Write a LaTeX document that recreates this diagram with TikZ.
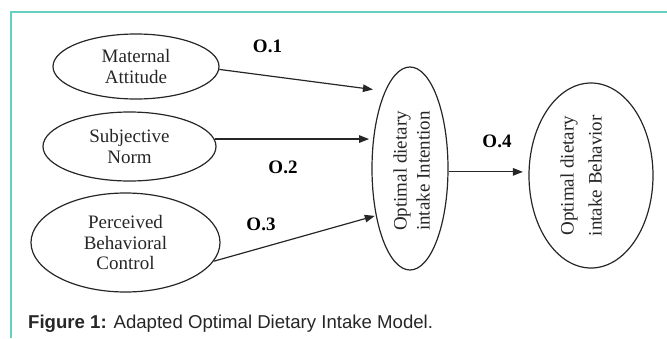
\documentclass[tikz,border=0pt]{standalone}
\usepackage{fontspec}
\setmainfont{Liberation Serif}
\newfontfamily\capfont{Liberation Sans}
\usepackage{graphicx}
\usetikzlibrary{shapes.geometric,arrows.meta}
\definecolor{frameteal}{RGB}{102,208,192}
\definecolor{ink}{RGB}{38,38,38}
\begin{document}
\begin{tikzpicture}[x=1pt,y=-1pt,
  oval/.style={ellipse,draw=ink,line width=1.2pt,inner sep=0pt,align=center,
    font=\fontsize{19}{20.5}\selectfont,text=ink},
  vtext/.style={inner sep=0pt,text=ink},
  lbl/.style={font=\fontsize{19}{20}\selectfont\bfseries,inner sep=0pt,text=black},
  arr/.style={draw=ink,line width=1.2pt,-{Triangle[length=10pt,width=7.5pt]}},
]
\useasboundingbox (0,0) rectangle (667,338);
% frame
\draw[frameteal,line width=1.5pt] (11,338) -- (11,12) -- (667,12);

% left ellipses
\node[oval,minimum width=166,minimum height=65] (mat) at (136,66.5) {Maternal\\Attitude};
\node[oval,minimum width=173,minimum height=69] (subj) at (129.5,146.5) {Subjective\\Norm};
\node[oval,minimum width=189,minimum height=99] (perc) at (125.5,242.5) {Perceived\\Behavioral\\Control};

% vertical ellipses
\node[oval,minimum width=76,minimum height=203] (intent) at (410,168.5) {};
\node[vtext] (intenttxt) at (413.5,171) {\fontsize{19}{23}\selectfont\rotatebox{90}{\begin{tabular}{@{}c@{}}Optimal dietary\\intake Intention\end{tabular}}};
\node[oval,minimum width=124,minimum height=185] (behav) at (591,175.5) {};
\node[vtext] (behavtxt) at (582,175.7) {\fontsize{19}{28}\selectfont\rotatebox{90}{\begin{tabular}{@{}c@{}}Optimal dietary\\intake Behavior\end{tabular}}};

% connectors
\draw[arr,shorten >=12pt] (mat.-2) -- (intent.108);
\draw[arr,shorten >=4pt] (subj.5) -- (subj.5 -| intent.141);
\draw[arr,shorten >=1pt] (perc.-12) -- (intent.234);
\draw[arr,shorten >=5.5pt] (intent.-5) -- (intent.-5 -| behav.west);

% labels
\node[lbl] (o1) at (267.5,46) {O.1};
\node[lbl] (o2) at (283,167) {O.2};
\node[lbl] (o3) at (261,224) {O.3};
\node[lbl] (o4) at (497,141) {O.4};

% caption
\node[anchor=base west,inner sep=0pt,text=ink,font=\capfont\fontsize{18.6}{20}\selectfont] (cap) at (28,328)
  {\textbf{Figure 1:} Adapted Optimal Dietary Intake Model.};
\end{tikzpicture}
\end{document}
